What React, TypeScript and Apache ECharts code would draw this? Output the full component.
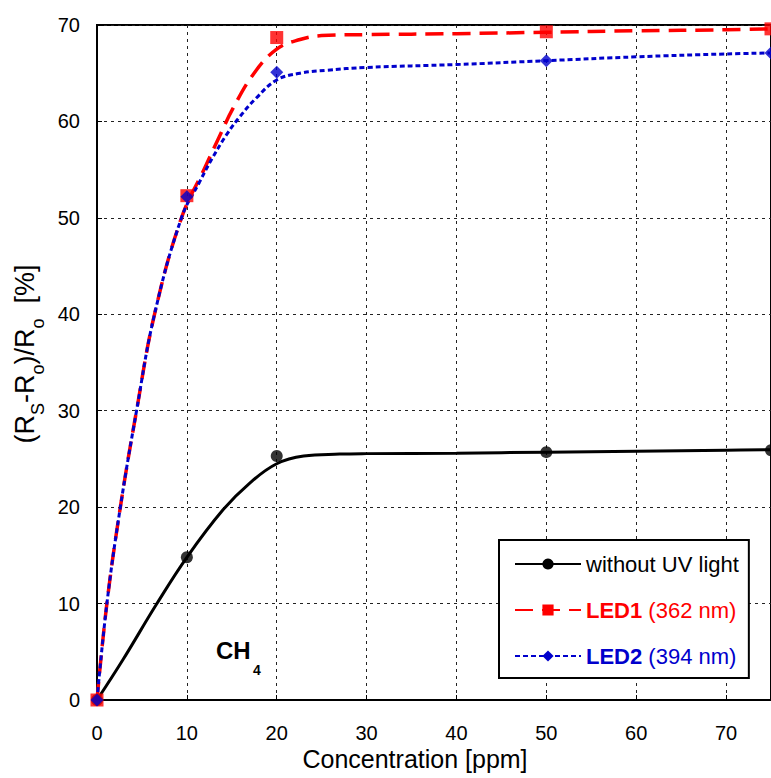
import React, { useEffect, useRef } from "react";
import * as echarts from "echarts";

// Measured points
const concentration = [0, 10, 20, 50, 75];
const noUV = [0, 14.8, 25.3, 25.7, 25.9];
const led1 = [0, 52.3, 68.7, 69.3, 69.6];
const led2 = [0, 52.2, 65.1, 66.3, 67.1];

// Fitted curves: [x, y]
const noUVCurve = [
  [0, 0], [2.9, 4.2], [6.6, 9.9], [10, 14.8], [14, 19.7], [17, 22.5], [20, 24.5],
  [23, 25.3], [27, 25.5], [30, 25.55], [40, 25.6], [50, 25.7], [60, 25.8], [70, 25.9], [75, 25.95],
];
const led1Curve = [
  [0, 0], [1.1, 10], [2.6, 20], [4.4, 30], [6.4, 40], [9.4, 50], [12, 55.2], [13.7, 58.6],
  [15.1, 61.3], [17.4, 64.9], [20, 67.5], [22.6, 68.5], [25, 68.9], [30, 69.0], [40, 69.1],
  [50, 69.25], [60, 69.4], [70, 69.5], [75, 69.6],
];
const led2Curve = [
  [0, 0], [1.1, 10], [2.6, 20], [4.4, 30], [6.4, 40], [9.4, 50], [11.4, 53.7], [12.9, 56.3],
  [14.4, 58.6], [15.9, 60.5], [17.7, 62.4], [20, 64.3], [22.6, 65.0], [25.5, 65.3], [30, 65.6],
  [40, 65.9], [50, 66.3], [60, 66.7], [70, 67.0], [75, 67.1],
];

const seriesNames = ["without UV light", "LED1 (362 nm)", "LED2 (394 nm)"];
const xTicks = { min: 0, max: 75, interval: 10 };
const yTicks = { min: 0, max: 70, interval: 10 };

const FONT = '"Liberation Sans", Arial, Helvetica, sans-serif';
const RED = "#ff0000";
const BLUE = "#0000cc";

export default function App() {
  const ref = useRef<HTMLDivElement>(null);
  useEffect(() => {
    if (!ref.current) return;
    const chart = echarts.init(ref.current, undefined, { renderer: "svg" });
    const pts = (vals: number[]) => concentration.map((c, i) => [c, vals[i]]);
    const grid = { left: 97, top: 25, width: 675, height: 675 };
    const splitLine = { show: true, lineStyle: { color: "#222", width: 1, type: [3, 4] as any } };
    chart.setOption({
      animation: false,
      backgroundColor: "#fff",
      textStyle: { fontFamily: FONT },
      grid: { ...grid, show: true, borderColor: "#000", borderWidth: 2, backgroundColor: "transparent" },
      xAxis: {
        type: "value",
        min: xTicks.min,
        max: xTicks.max,
        interval: xTicks.interval,
        axisLine: { show: true, lineStyle: { color: "#000", width: 2 } },
        axisTick: { show: true, inside: true, length: 5, lineStyle: { color: "#000" } },
        axisLabel: { showMaxLabel: false, color: "#000", fontSize: 20, fontFamily: FONT, margin: 23 },
        splitLine,
      },
      yAxis: {
        type: "value",
        min: yTicks.min,
        max: yTicks.max,
        interval: yTicks.interval,
        axisLine: { show: true, lineStyle: { color: "#000", width: 2 } },
        axisTick: { show: true, inside: true, length: 5, lineStyle: { color: "#000" } },
        axisLabel: { color: "#000", fontSize: 20, fontFamily: FONT, margin: 17 },
        splitLine,
      },
      legend: {
        orient: "vertical",
        left: 499,
        top: 540,
        data: seriesNames,
        selectedMode: false,
        itemWidth: 66,
        itemHeight: 14,
        itemGap: 24,
        padding: [13, 10, 11, 15],
        borderColor: "#000",
        borderWidth: 2,
        borderRadius: 0,
        backgroundColor: "#fff",
        textStyle: {
          fontSize: 22,
          fontFamily: FONT,
          color: "#000",
          lineHeight: 22,
          rich: {
            rb: { fontSize: 22, fontFamily: FONT, fontWeight: "bold", color: RED },
            rn: { fontSize: 22, fontFamily: FONT, color: RED },
            bb: { fontSize: 22, fontFamily: FONT, fontWeight: "bold", color: BLUE },
            bn: { fontSize: 22, fontFamily: FONT, color: BLUE },
          },
        },
        formatter: (name: string) => {
          if (name === seriesNames[1]) return "{rb|LED1} {rn|(362 nm)}";
          if (name === seriesNames[2]) return "{bb|LED2} {bn|(394 nm)}";
          return name;
        },
      },
      series: [
        {
          name: seriesNames[0],
          type: "line",
          data: noUVCurve,
          smooth: 0.4,
          showSymbol: false,
          symbol: "circle",
          symbolSize: 12,
          itemStyle: { color: "#000" },
          lineStyle: { color: "#000", width: 3 },
          z: 3,
        },
        {
          name: seriesNames[1],
          type: "line",
          data: led1Curve,
          smooth: 0.4,
          showSymbol: false,
          symbol: "rect",
          symbolSize: 12,
          itemStyle: { color: RED },
          lineStyle: { color: RED, width: 3.5, type: [18, 9] },
          z: 3,
        },
        {
          name: seriesNames[2],
          type: "line",
          data: led2Curve,
          smooth: 0.4,
          showSymbol: false,
          symbol: "diamond",
          symbolSize: 13,
          itemStyle: { color: BLUE },
          lineStyle: { color: BLUE, width: 3, type: [5, 3] },
          z: 3,
        },
        {
          type: "scatter",
          data: pts(noUV),
          symbol: "circle",
          symbolSize: 12,
          itemStyle: { color: "#000" },
          clip: false,
          z: 4,
        },
        {
          type: "scatter",
          data: pts(led1),
          symbol: "rect",
          symbolSize: 13,
          itemStyle: { color: RED },
          clip: false,
          z: 5,
        },
        {
          type: "scatter",
          data: pts(led2),
          symbol: "diamond",
          symbolSize: 13,
          itemStyle: { color: BLUE },
          clip: false,
          z: 6,
        },
      ],
      graphic: [
        {
          type: "text",
          x: 415,
          y: 759,
          style: {
            text: "Concentration [ppm]",
            fontSize: 25,
            fontFamily: FONT,
            fill: "#000",
            textAlign: "center",
            textVerticalAlign: "middle",
          },
        },
        {
          type: "group",
          x: 25,
          y: 354,
          rotation: Math.PI / 2,
          children: [
            {
              type: "text",
              style: {
                text: "{m|(R}{s|S}{m|-R}{s|o}{m|)/R}{s|o}{m|  [%]}",
                textAlign: "center",
                textVerticalAlign: "middle",
                fill: "#000",
                rich: {
                  m: { fontSize: 27, fontFamily: FONT, fill: "#000" },
                  s: { fontSize: 18, fontFamily: FONT, fill: "#000", padding: [26, 0, 0, 0] },
                },
              },
            },
          ],
        },
        {
          type: "text",
          x: 216,
          y: 650,
          style: {
            text: "CH",
            fontSize: 24,
            fontWeight: "bold",
            fontFamily: FONT,
            fill: "#000",
            textVerticalAlign: "middle",
          },
        },
        {
          type: "text",
          x: 253,
          y: 670,
          style: {
            text: "4",
            fontSize: 14,
            fontWeight: "bold",
            fontFamily: FONT,
            fill: "#000",
            textVerticalAlign: "middle",
          },
        },
      ],
    });
    return () => chart.dispose();
  }, []);
  return (
    <div
      ref={ref}
      style={{ position: "fixed", left: 0, top: 0, width: 771, height: 778, background: "#fff" }}
    />
  );
}
